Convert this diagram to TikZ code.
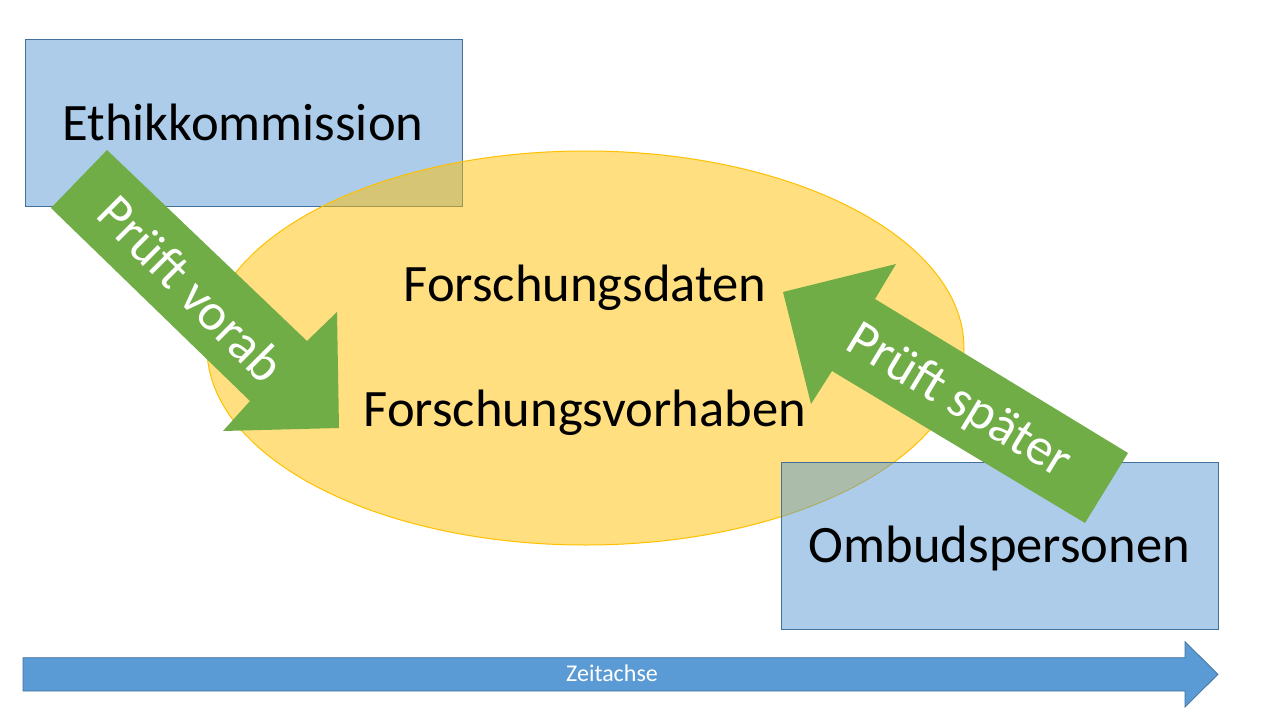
\documentclass[tikz,border=0pt]{standalone}
\usepackage{fontspec}
\setmainfont{Carlito}
\usetikzlibrary{shapes.geometric}
\definecolor{boxfill}{RGB}{91,155,213}
\definecolor{boxline}{RGB}{65,113,156}
\definecolor{gold}{RGB}{255,192,0}
\definecolor{arrowgreen}{RGB}{112,173,71}
\begin{document}
\begin{tikzpicture}[x=1pt,y=-1pt,
  box/.style={rectangle, draw=boxline, line width=1pt, fill=boxfill, fill opacity=0.5,
    minimum width=437pt, minimum height=167pt, inner sep=0pt},
  oval/.style={ellipse, draw=gold, line width=1pt, fill=gold, fill opacity=0.5,
    minimum width=757pt, minimum height=394pt, inner sep=0pt},
  bigtext/.style={font=\fontsize{52.6}{62}\selectfont, inner sep=0pt, anchor=base},
  arrowtext/.style={bigtext, text=white},
  greenarrow/.style={fill=arrowgreen, draw=none},
  timeline/.style={draw=boxline, fill=boxfill, line width=0.75pt}]
\useasboundingbox (0,0) rectangle (1280,720);
\fill[white] (0,0) rectangle (1280,720);

% boxes and ellipse
\node[box] (ethik) at (244,122.5) {};
\node[oval] (ell) at (585.5,348) {};
\node[box] (ombuds) at (1000,545.7) {};

% timeline arrow
\draw[timeline] (23,657.7) -- (1185,657.7) -- (1185,641.7) -- (1218,674.3)
  -- (1185,707) -- (1185,691) -- (23,691) -- cycle;
\node[font=\fontsize{24}{28}\selectfont, text=white, inner sep=0pt, anchor=base]
  (zeit) at (612,681.7) {Zeitachse};

% green arrows
\fill[greenarrow] (107,150) -- (307,341) -- (337,312) -- (339,428)
  -- (223,431) -- (250,401) -- (51,208) -- cycle;
\fill[greenarrow] (783,292) -- (896,264) -- (875,299) -- (1128,453)
  -- (1085,523) -- (832,371) -- (811,404) -- cycle;

% texts
\node[bigtext] (tethik) at (243,140) {Ethikkommission};
\node[bigtext] (tdaten) at (585,301.7) {Forschungsdaten};
\node[bigtext] (tvorh) at (585,426.7) {Forschungsvorhaben};
\node[bigtext] (tombuds) at (999.5,562.7) {Ombudspersonen};
\node[arrowtext, rotate=-45] (tvorab) at (178.7,301.3) {Prüft vorab};
\node[arrowtext, rotate=-31.2] (tspaeter) at (951.7,413.7) {Prüft später};
\end{tikzpicture}
\end{document}
